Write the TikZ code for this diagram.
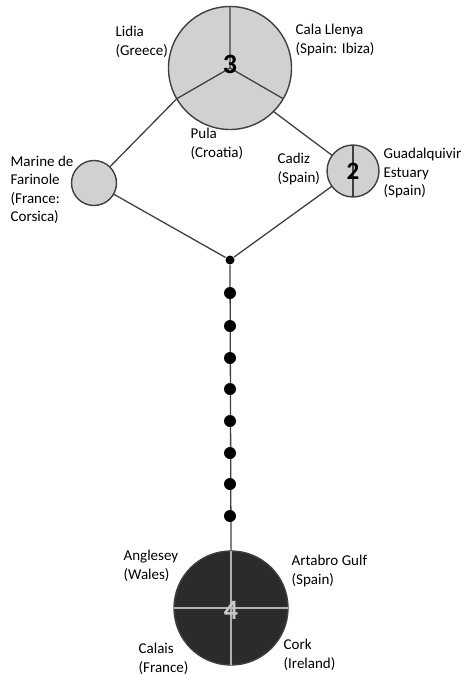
\documentclass[tikz,border=0pt]{standalone}
\usepackage{fontspec}
\setmainfont{Carlito}
\usetikzlibrary{positioning}
\tikzset{
  hap/.style={circle,draw=black!75,line width=1.4pt,fill=black!18,inner sep=0pt,outer sep=0pt},
  mut/.style={circle,fill=black,inner sep=0pt,minimum size=12pt},
  site/.style={align=left,anchor=west,inner sep=0pt,font=\fontsize{15}{18.5}\selectfont},
  num/.style={inner sep=0pt,font=\fontsize{28}{28}\bfseries}
}

\begin{document}
\begin{tikzpicture}[x=1pt,y=-1pt,line width=1.3pt,draw=black!75]
\useasboundingbox (0,0) rectangle (465,675);

% haplotype circles
\path (230,68) node (H3) [hap,minimum size=123pt] {}
      (94,183) node (H1) [hap,minimum size=45pt] {}
      (353,171) node (H2) [hap,minimum size=52pt] {}
      (230,260) node (J) [circle,fill=black,inner sep=0pt,minimum size=9pt] {}
      (231,608) node (H4) [hap,fill=black!83,minimum size=114pt] {};

\draw (H3.center) -- (H3.90)
      (H3.center) -- (H3.210)
      (H3.center) -- (H3.330);
\draw (H2.90) -- (H2.270);
\draw[black!30,line width=1.6pt] (H4.north) -- (H4.south)
      (H4.west) -- (H4.east);

\draw
  (H1) edge (H3.210)
       edge (J)
  (H2) edge (H3.-45)
       edge (J)
  (J) edge (H4.north);

% mutation steps
\path (J) ++(0,33) node[mut] (m1) {}
      ++(0,33) node[mut] (m2) {}
      ++(0,32) node[mut] (m3) {}
      ++(0,31) node[mut] (m4) {}
      ++(0,32) node[mut] (m5) {}
      ++(0,32) node[mut] (m6) {}
      ++(0,31) node[mut] (m7) {}
      ++(0,32) node[mut] (m8) {};

\node[num] (n3) at ([yshift=4pt]H3.center) {3};
\node[num,font=\fontsize{25}{25}\bfseries] (n2) at (H2.center) {2};
\node[num,text=black!22] (n4) at ([yshift=-2pt]H4.center) {4};

% sampling sites
\path (115,42) node[site] (Lidia) {Lidia\\(Greece)}
      (295,40) node[site] (Cala) {Cala Llenya\\(Spain: Ibiza)}
      (190,144) node[site] (Pula) {Pula\\(Croatia)}
      (10,190) node[site] (Marine) {Marine de\\Farinole\\(France:\\Corsica)}
      (277,169) node[site] (Cadiz) {Cadiz\\(Spain)}
      (383,173) node[site] (Guad) {Guadalquivir\\Estuary\\(Spain)}
      (123,566) node[site] (Angl) {Anglesey\\(Wales)}
      (291,571) node[site] (Artab) {Artabro Gulf\\(Spain)}
      (138,659) node[site] (Calais) {Calais\\(France)}
      (283,655) node[site] (Cork) {Cork\\(Ireland)};
\end{tikzpicture}
\end{document}
